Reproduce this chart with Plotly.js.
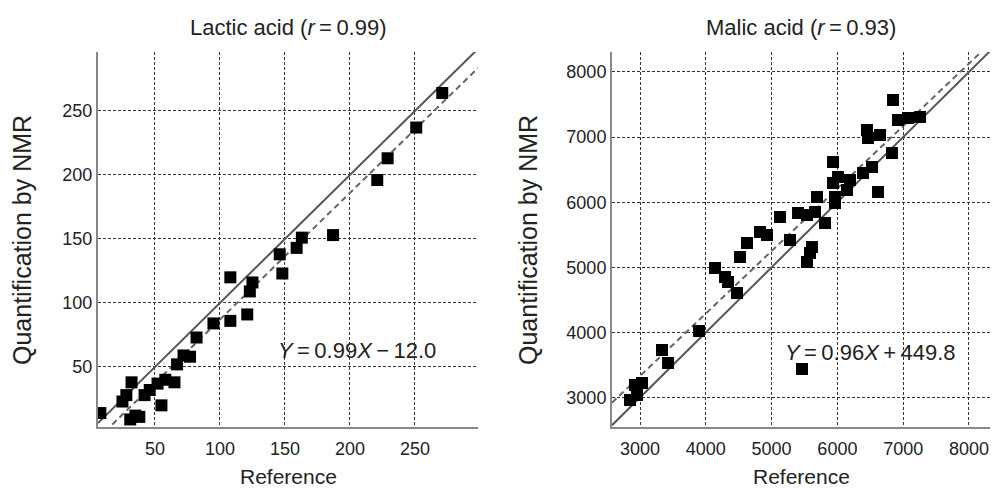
<!DOCTYPE html>
<html><head><meta charset="utf-8">
<script src="https://cdn.plot.ly/plotly-3.0.1.min.js"></script>
<style>html,body{margin:0;padding:0;background:#fff}#c{width:992px;height:489px}</style>
</head><body><div id="c"></div>
<script>
// Lactic acid: reference vs NMR
const lacticRef = [8, 25, 31, 35, 38, 32, 42, 28, 46, 55, 52, 58, 65, 67, 72, 77, 82, 95, 108, 121, 108, 125, 123, 146, 148, 159, 163, 187, 221, 229, 251, 271];
const lacticNMR = [14, 23, 9, 12, 11, 38, 28, 28, 32, 20, 37, 40, 38, 52, 59, 58, 73, 84, 86, 91, 120, 116, 109, 138, 123, 143, 151, 153, 196, 213, 237, 264];
const lacticFit = {slope: 0.99, intercept: -12.0};
// Malic acid: reference vs NMR
const malicRef = [2848, 2954, 3030, 2924, 3334, 3426, 3897, 4140, 4292, 4338, 4474, 4520, 4626, 4824, 4930, 5128, 5280, 5402, 5538, 5538, 5584, 5614, 5462, 5660, 5812, 6846, 6922, 7074, 7256, 6450, 6466, 6648, 6830, 5934, 6526, 6390, 6010, 6192, 5934, 6146, 5964, 6618, 5690, 5964];
const malicNMR = [2962, 3038, 3223, 3192, 3730, 3530, 4021, 4989, 4851, 4774, 4605, 5158, 5373, 5542, 5496, 5773, 5419, 5834, 5803, 5081, 5219, 5311, 3438, 5849, 5680, 7570, 7263, 7293, 7309, 7109, 6986, 7032, 6755, 6617, 6540, 6448, 6387, 6341, 6295, 6187, 6080, 6157, 6080, 5988];
const malicFit = {slope: 0.96, intercept: 449.8};

const titles = ['Lactic acid (<i>r</i>\u2009=\u20090.99)', 'Malic acid (<i>r</i>\u2009=\u20090.93)'];
const eqs = ['<i>Y</i>\u2009=\u20090.99<i>X</i>\u2009\u2212\u200912.0', '<i>Y</i>\u2009=\u20090.96<i>X</i>\u2009+\u2009449.8'];
const xTitle = 'Reference';
const yTitle = 'Quantification by NMR';
const lacticTicks = [50, 100, 150, 200, 250];
const malicTicks = [3000, 4000, 5000, 6000, 7000, 8000];

const lxr = [6.2, 298.5], lyr = [3.1, 296];
const mxr = [2574, 8320], myr = [2547, 8307];

function lineXs(r){ return [r[0], r[1]]; }
const W = 992, H = 489;
const px = v => v / W, py = v => 1 - v / H;
const FONT = 'Liberation Sans, Arial, sans-serif';

const traces = [
  {x: lineXs(lxr), y: lineXs(lxr), xaxis:'x', yaxis:'y', mode:'lines', line:{color:'#555', width:2}, hoverinfo:'skip'},
  {x: lineXs(lxr), y: lineXs(lxr).map(v => lacticFit.slope*v + lacticFit.intercept), xaxis:'x', yaxis:'y', mode:'lines', line:{color:'#666', width:2, dash:'6px,4px'}, hoverinfo:'skip'},
  {x: lacticRef, y: lacticNMR, xaxis:'x', yaxis:'y', mode:'markers', marker:{symbol:'square', size:12, color:'#000'}},
  {x: lineXs(mxr), y: lineXs(mxr), xaxis:'x2', yaxis:'y2', mode:'lines', line:{color:'#555', width:2}, hoverinfo:'skip'},
  {x: lineXs(mxr), y: lineXs(mxr).map(v => malicFit.slope*v + malicFit.intercept), xaxis:'x2', yaxis:'y2', mode:'lines', line:{color:'#666', width:2, dash:'6px,4px'}, hoverinfo:'skip'},
  {x: malicRef, y: malicNMR, xaxis:'x2', yaxis:'y2', mode:'markers', marker:{symbol:'square', size:12, color:'#000'}}
];

const axBase = {
  showline: true, linecolor: '#888', linewidth: 2, mirror: false,
  showgrid: true, gridcolor: '#333', gridwidth: 1, griddash: '3px,2px',
  zeroline: false, ticks: '', tickfont: {family: FONT, size: 18, color: '#222'},
  fixedrange: true
};
const yDom = [ (H-427)/H, (H-52)/H ];

function ann(text, x, y, size, extra){
  return Object.assign({text, xref:'paper', yref:'paper', x: px(x), y: py(y), xanchor:'center', yanchor:'middle',
    showarrow:false, font:{family: FONT, size, color:'#222'}}, extra || {});
}

const layout = {
  width: W, height: H, margin: {l:0, r:0, t:0, b:0}, showlegend: false,
  paper_bgcolor: '#fff', plot_bgcolor: '#fff',
  font: {family: FONT, color: '#222'},
  xaxis: Object.assign({}, axBase, {domain: [98/W, 478/W], range: lxr, tickvals: lacticTicks, anchor:'y', ticklabelstandoff: 4}),
  yaxis: Object.assign({}, axBase, {domain: yDom, range: lyr, tickvals: lacticTicks, anchor:'x'}),
  xaxis2: Object.assign({}, axBase, {domain: [612/W, 990/W], range: mxr, tickvals: malicTicks, anchor:'y2', ticklabelstandoff: 4}),
  yaxis2: Object.assign({}, axBase, {domain: yDom, range: myr, tickvals: malicTicks, anchor:'x2'}),
  annotations: [
    ann(titles[0], 288, 27, 22),
    ann(titles[1], 801, 27, 22),
    ann(xTitle, 288, 476, 21),
    ann(xTitle, 801, 476, 21),
    ann(yTitle, 22, 240, 25, {textangle:-90}),
    ann(yTitle, 528, 240, 25, {textangle:-90}),
    ann(eqs[0], 357, 350, 22),
    ann(eqs[1], 870, 352, 22)
  ]
};
Plotly.newPlot('c', traces, layout, {staticPlot: true});
</script></body></html>
